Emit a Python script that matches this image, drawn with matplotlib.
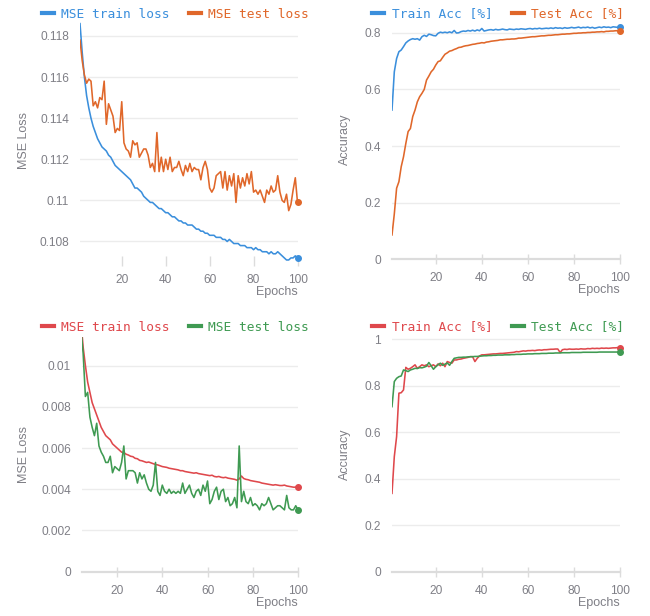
import matplotlib
matplotlib.use('Agg')
import matplotlib.pyplot as plt
from matplotlib.ticker import MultipleLocator, FuncFormatter
import numpy as np


# ---- data ----
epochs = np.arange(1, 101)

# model 1: loss
loss1_train = [
    0.1186, 0.1172, 0.1160, 0.1151, 0.1145, 0.1140, 0.1136, 0.1133, 0.1130, 0.1128,
    0.1126, 0.1125, 0.1124, 0.1122, 0.1121, 0.1119, 0.1117, 0.1116, 0.1115, 0.1114,
    0.1113, 0.1112, 0.1111, 0.1110, 0.1108, 0.1106, 0.1106, 0.1105, 0.1104, 0.1102,
    0.1101, 0.1100, 0.1099, 0.1099, 0.1098, 0.1097, 0.1096, 0.1096, 0.1095, 0.1094,
    0.1094, 0.1093, 0.1092, 0.1092, 0.1091, 0.1090, 0.1090, 0.1089, 0.1089, 0.1088,
    0.1088, 0.1088, 0.1087, 0.1086, 0.1086, 0.1085, 0.1085, 0.1084, 0.1084, 0.1083,
    0.1083, 0.1083, 0.1082, 0.1082, 0.1082, 0.1081, 0.1081, 0.1080, 0.1081, 0.1080,
    0.1079, 0.1079, 0.1079, 0.1078, 0.1078, 0.1078, 0.1077, 0.1077, 0.1077, 0.1076,
    0.1077, 0.1076, 0.1076, 0.1075, 0.1075, 0.1075, 0.1074, 0.1075, 0.1074, 0.1074,
    0.1075, 0.1074, 0.1073, 0.1072, 0.1071, 0.1071, 0.1072, 0.1072, 0.1073, 0.1072,
]
loss1_test = [
    0.1178, 0.1168, 0.1161, 0.1157, 0.1159, 0.1158, 0.1146, 0.1148, 0.1145, 0.1150,
    0.1149, 0.1158, 0.1137, 0.1147, 0.1144, 0.1141, 0.1133, 0.1135, 0.1134, 0.1148,
    0.1128, 0.1125, 0.1124, 0.1121, 0.1129, 0.1127, 0.1128, 0.1121, 0.1123, 0.1125,
    0.1125, 0.1122, 0.1116, 0.1118, 0.1114, 0.1133, 0.1114, 0.1121, 0.1114, 0.1120,
    0.1115, 0.1121, 0.1114, 0.1116, 0.1116, 0.1119, 0.1115, 0.1112, 0.1117, 0.1114,
    0.1118, 0.1114, 0.1116, 0.1115, 0.1115, 0.1110, 0.1116, 0.1119, 0.1115, 0.1106,
    0.1104, 0.1106, 0.1112, 0.1113, 0.1114, 0.1106, 0.1114, 0.1105, 0.1112, 0.1107,
    0.1113, 0.1099, 0.1112, 0.1106, 0.1111, 0.1107, 0.1113, 0.1108, 0.1114, 0.1104,
    0.1105, 0.1103, 0.1105, 0.1102, 0.1099, 0.1105, 0.1103, 0.1107, 0.1104, 0.1105,
    0.1112, 0.1104, 0.1100, 0.1099, 0.1103, 0.1095, 0.1098, 0.1105, 0.1111, 0.1099,
]

# model 1: accuracy
acc1_train = [
    0.527, 0.662, 0.709, 0.733, 0.739, 0.751, 0.764, 0.771, 0.776, 0.779,
    0.777, 0.779, 0.774, 0.786, 0.791, 0.787, 0.795, 0.793, 0.790, 0.789,
    0.798, 0.802, 0.800, 0.802, 0.800, 0.803, 0.800, 0.808, 0.799, 0.800,
    0.804, 0.806, 0.805, 0.808, 0.806, 0.809, 0.806, 0.810, 0.807, 0.815,
    0.806, 0.808, 0.810, 0.811, 0.809, 0.812, 0.810, 0.811, 0.813, 0.811,
    0.810, 0.813, 0.812, 0.811, 0.813, 0.812, 0.814, 0.813, 0.812, 0.814,
    0.815, 0.813, 0.815, 0.814, 0.816, 0.814, 0.815, 0.816, 0.815, 0.817,
    0.815, 0.818, 0.816, 0.817, 0.815, 0.818, 0.816, 0.817, 0.819, 0.817,
    0.818, 0.820, 0.817, 0.819, 0.818, 0.820, 0.817, 0.819, 0.816, 0.818,
    0.820, 0.818, 0.821, 0.819, 0.820, 0.818, 0.821, 0.820, 0.819, 0.821,
]
acc1_test = [
    0.086, 0.160, 0.251, 0.274, 0.327, 0.362, 0.409, 0.451, 0.462, 0.504,
    0.527, 0.556, 0.574, 0.586, 0.600, 0.633, 0.647, 0.662, 0.671, 0.686,
    0.698, 0.701, 0.713, 0.724, 0.729, 0.735, 0.737, 0.741, 0.744, 0.748,
    0.749, 0.752, 0.754, 0.755, 0.757, 0.759, 0.760, 0.762, 0.763, 0.765,
    0.764, 0.767, 0.768, 0.770, 0.771, 0.772, 0.773, 0.775, 0.775, 0.776,
    0.777, 0.777, 0.778, 0.778, 0.779, 0.781, 0.781, 0.782, 0.783, 0.784,
    0.785, 0.786, 0.786, 0.787, 0.788, 0.789, 0.789, 0.790, 0.791, 0.791,
    0.792, 0.793, 0.793, 0.794, 0.795, 0.795, 0.796, 0.796, 0.797, 0.798,
    0.798, 0.799, 0.799, 0.800, 0.800, 0.801, 0.801, 0.802, 0.802, 0.803,
    0.803, 0.804, 0.803, 0.805, 0.805, 0.806, 0.806, 0.807, 0.807, 0.807,
]

# model 2: loss (shown from epoch 4 on)
epochs2 = np.arange(4, 101)
loss2_train = [
    0.0122, 0.0109, 0.0100, 0.0092, 0.0087, 0.0082, 0.0079,
    0.0076, 0.0073, 0.0070, 0.0068, 0.0066, 0.0065, 0.0064, 0.0062, 0.0061, 0.0060,
    0.0059, 0.0058, 0.00578, 0.0057, 0.00566, 0.0056, 0.00558, 0.0055, 0.00548, 0.0054,
    0.00538, 0.00534, 0.0053, 0.00532, 0.00528, 0.00524, 0.0052, 0.00518, 0.00514, 0.0051,
    0.00508, 0.00506, 0.00502, 0.0050, 0.00498, 0.00496, 0.00494, 0.0049, 0.0049, 0.00486,
    0.00484, 0.00482, 0.0048, 0.00478, 0.0048, 0.00476, 0.00474, 0.00472, 0.0047, 0.00468,
    0.00466, 0.00468, 0.00462, 0.0046, 0.00462, 0.00458, 0.00456, 0.00458, 0.00454, 0.00452,
    0.0045, 0.00448, 0.00444, 0.0045, 0.00464, 0.00452, 0.00448, 0.00446, 0.00442, 0.0044,
    0.00438, 0.00436, 0.00434, 0.0043, 0.00428, 0.00426, 0.00424, 0.00422, 0.0042, 0.00422,
    0.0042, 0.00418, 0.00418, 0.0042, 0.00416, 0.00414, 0.00412, 0.0041, 0.0041, 0.0041,
]
loss2_test = [
    0.0118, 0.0106, 0.0085, 0.0087, 0.0075, 0.0070, 0.0066,
    0.0072, 0.0061, 0.0058, 0.0056, 0.0053, 0.0053, 0.0056, 0.0048, 0.0051, 0.0050,
    0.0049, 0.0053, 0.0061, 0.0045, 0.0049, 0.0049, 0.0049, 0.0048, 0.0043, 0.0048,
    0.0045, 0.0047, 0.0043, 0.0040, 0.0039, 0.0042, 0.0053, 0.0039, 0.0037, 0.0042,
    0.0039, 0.0038, 0.0040, 0.0038, 0.0039, 0.0038, 0.0039, 0.0038, 0.0043, 0.0038,
    0.0040, 0.0042, 0.0038, 0.0036, 0.0039, 0.0040, 0.0037, 0.0042, 0.0039, 0.0044,
    0.0033, 0.0035, 0.0039, 0.0041, 0.0035, 0.0039, 0.0040, 0.0034, 0.0036, 0.0032,
    0.0033, 0.0036, 0.0031, 0.0061, 0.0034, 0.0039, 0.0034, 0.0033, 0.0036, 0.0032,
    0.0033, 0.0032, 0.0030, 0.0033, 0.0032, 0.0033, 0.0036, 0.0033, 0.0030, 0.0031,
    0.0032, 0.0032, 0.0031, 0.0030, 0.0037, 0.0031, 0.0030, 0.0030, 0.0032, 0.0030,
]

# model 2: accuracy
acc2_train = [
    0.337, 0.495, 0.581, 0.768, 0.770, 0.782, 0.879, 0.871, 0.875, 0.882,
    0.890, 0.875, 0.882, 0.890, 0.886, 0.890, 0.882, 0.886, 0.890, 0.882,
    0.894, 0.886, 0.897, 0.882, 0.904, 0.900, 0.897, 0.911, 0.911, 0.914,
    0.915, 0.918, 0.920, 0.922, 0.925, 0.925, 0.904, 0.918, 0.928, 0.933,
    0.933, 0.934, 0.935, 0.936, 0.937, 0.937, 0.938, 0.939, 0.939, 0.940,
    0.941, 0.942, 0.943, 0.944, 0.947, 0.946, 0.948, 0.950, 0.949, 0.951,
    0.951, 0.952, 0.951, 0.953, 0.954, 0.953, 0.955, 0.955, 0.956, 0.957,
    0.957, 0.958, 0.958, 0.943, 0.955, 0.957, 0.956, 0.958, 0.957, 0.957,
    0.958, 0.957, 0.959, 0.958, 0.958, 0.960, 0.959, 0.961, 0.960, 0.961,
    0.960, 0.962, 0.961, 0.962, 0.961, 0.962, 0.963, 0.963, 0.964, 0.964,
]
acc2_test = [
    0.710, 0.818, 0.832, 0.839, 0.842, 0.868, 0.865, 0.861, 0.868, 0.871,
    0.875, 0.874, 0.878, 0.877, 0.880, 0.884, 0.900, 0.886, 0.871, 0.882,
    0.890, 0.897, 0.888, 0.893, 0.898, 0.888, 0.904, 0.918, 0.920, 0.922,
    0.922, 0.923, 0.923, 0.924, 0.925, 0.925, 0.926, 0.926, 0.927, 0.928,
    0.929, 0.929, 0.930, 0.930, 0.931, 0.931, 0.932, 0.932, 0.932, 0.933,
    0.933, 0.933, 0.934, 0.934, 0.935, 0.935, 0.935, 0.936, 0.936, 0.937,
    0.937, 0.937, 0.938, 0.938, 0.938, 0.939, 0.939, 0.939, 0.940, 0.940,
    0.940, 0.941, 0.941, 0.941, 0.942, 0.942, 0.942, 0.942, 0.943, 0.943,
    0.943, 0.943, 0.943, 0.944, 0.944, 0.944, 0.944, 0.944, 0.944, 0.944,
    0.945, 0.945, 0.945, 0.945, 0.945, 0.945, 0.945, 0.945, 0.945, 0.945,
]

BLUE = '#3b8fdc'
ORANGE = '#e0672a'
RED = '#df484c'
GREEN = '#3f9a52'
GRAY_TXT = '#7f7f86'
GRID = '#ececec'
AXIS = '#dcdcdc'

W, H = 650, 616
fig = plt.figure(figsize=(W / 100, H / 100), dpi=100)
plt.rcParams['font.family'] = 'Liberation Sans'


def px_axes(left, top, right, bottom):
    # place axes by pixel box (top-left origin)
    return fig.add_axes([left / W, 1 - bottom / H, (right - left) / W, (bottom - top) / H])


def style(ax, ylabel, label_px, legend_x, legend_y, show_base=True):
    ax.set_facecolor('none')
    for s in ['top', 'right', 'left']:
        ax.spines[s].set_visible(False)
    if show_base:
        ax.spines['bottom'].set_color(AXIS)
        ax.spines['bottom'].set_linewidth(1.6)
    else:
        ax.spines['bottom'].set_visible(False)
    ax.grid(axis='y', color=GRID, lw=1)
    ax.set_axisbelow(True)
    ax.xaxis.set_major_locator(MultipleLocator(20))
    ax.tick_params(axis='x', direction='inout', length=7, width=1, color=AXIS,
                   labelcolor=GRAY_TXT, labelsize=8.6, pad=6)
    ax.tick_params(axis='y', length=0, labelcolor=GRAY_TXT, labelsize=8.6, pad=8)
    ax.yaxis.set_major_formatter(FuncFormatter(lambda v, p: f'{v:g}'))
    ax.set_xlabel('Epochs', loc='right', color=GRAY_TXT, fontsize=9, labelpad=0)
    ax.set_ylabel(ylabel, color=GRAY_TXT, fontsize=9)
    # label offset given in pixels left of the axes
    width_px = ax.get_position().width * W
    ax.yaxis.set_label_coords(-label_px / width_px, 0.5)
    ax.legend(loc='center right', bbox_to_anchor=(legend_x / W, 1 - legend_y / H),
              bbox_transform=fig.transFigure, ncol=2, frameon=False,
              prop={'family': 'DejaVu Sans Mono', 'size': 9.3}, labelcolor='linecolor',
              handlelength=0.95, handletextpad=0.55, columnspacing=1.5,
              borderpad=0, borderaxespad=0)
    for ln in ax.get_legend().get_lines():
        ln.set_linewidth(3)


def curve(ax, x, y, color, label):
    ax.plot(x, y, color=color, lw=1.15, label=label)
    ax.plot(x[-1], y[-1], 'o', color=color, ms=4, clip_on=False)


# top left: loss model 1
ax = px_axes(80, 19.5, 297.5, 261)
curve(ax, epochs, loss1_train, BLUE, 'MSE train loss')
curve(ax, epochs, loss1_test, ORANGE, 'MSE test loss')
ax.set_xlim(1, 100)
ax.set_ylim(0.10705, 0.1188)
ax.yaxis.set_major_locator(MultipleLocator(0.002))
style(ax, 'MSE Loss', 50, 309, 14, show_base=False)

# top right: accuracy model 1
ax = px_axes(392, 20, 620, 259.3)
curve(ax, epochs, acc1_train, BLUE, 'Train Acc [%]')
curve(ax, epochs, acc1_test, ORANGE, 'Test Acc [%]')
ax.set_xlim(1, 100)
ax.set_ylim(0, 0.845)
ax.yaxis.set_major_locator(MultipleLocator(0.2))
style(ax, 'Accuracy', 41, 624, 14)

# bottom left: loss model 2
ax = px_axes(82, 336.7, 298, 571.7)
curve(ax, epochs2, loss2_train, RED, 'MSE train loss')
curve(ax, epochs2, loss2_test, GREEN, 'MSE test loss')
ax.set_xlim(4.5, 100)
ax.set_ylim(0, 0.0114)
ax.yaxis.set_major_locator(MultipleLocator(0.002))
style(ax, 'MSE Loss', 52, 309, 327)

# bottom right: accuracy model 2
ax = px_axes(392, 336, 620, 571.7)
curve(ax, epochs, acc2_train, RED, 'Train Acc [%]')
curve(ax, epochs, acc2_test, GREEN, 'Test Acc [%]')
ax.set_xlim(1, 100)
ax.set_ylim(0, 1.014)
ax.yaxis.set_major_locator(MultipleLocator(0.2))
style(ax, 'Accuracy', 41, 624, 327)

fig.savefig('out.png', dpi=100)
